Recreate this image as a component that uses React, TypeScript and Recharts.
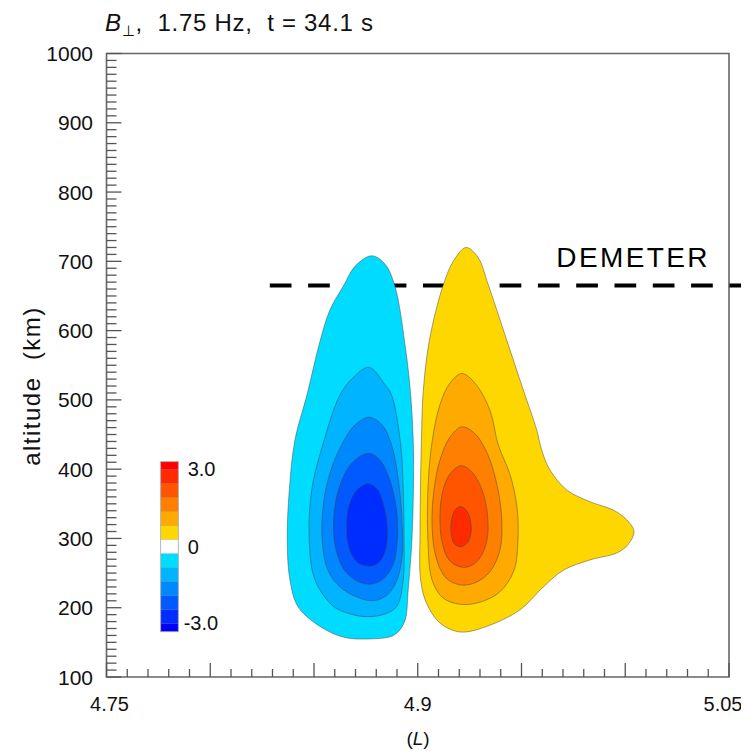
import React from "react";
import { ScatterChart, Scatter, XAxis, YAxis, ReferenceLine, ReferenceArea } from "recharts";

// contour outlines, [L, altitude km]
const negLevel1 = [
  [4.8778, 708], [4.8842, 696], [4.889, 664], [4.8939, 579], [4.8966, 507], [4.8979, 435],
  [4.8979, 370], [4.8972, 298], [4.8954, 226], [4.8939, 182], [4.8905, 165], [4.8866, 158],
  [4.877, 155], [4.8649, 157], [4.8529, 173], [4.8424, 201], [4.8384, 240], [4.8371, 298],
  [4.8381, 370], [4.8408, 442], [4.8466, 507], [4.8524, 579], [4.8577, 630], [4.8641, 664],
  [4.8698, 693],
];
const negLevel2 = [
  [4.8765, 547], [4.8842, 522], [4.8874, 507], [4.8918, 435], [4.893, 370], [4.8934, 298],
  [4.893, 240], [4.8899, 202], [4.8842, 191], [4.8754, 187], [4.8664, 192], [4.8593, 202],
  [4.8505, 240], [4.8477, 298], [4.8489, 370], [4.8542, 435], [4.8625, 507], [4.8688, 532],
];
const negLevel3 = [
  [4.8767, 475], [4.8828, 464], [4.8874, 435], [4.8907, 384], [4.8924, 327], [4.8923, 269],
  [4.889, 233], [4.8842, 216], [4.8778, 210], [4.8702, 216], [4.8625, 230], [4.8567, 254],
  [4.8539, 298], [4.8548, 356], [4.8582, 399], [4.8633, 435], [4.8698, 464],
];
const negLevel4 = [
  [4.8762, 423], [4.8818, 413], [4.8866, 384], [4.8898, 341], [4.8902, 298], [4.8881, 262],
  [4.8828, 240], [4.8765, 234], [4.8698, 240], [4.864, 257], [4.8601, 291], [4.8596, 334],
  [4.8625, 377], [4.8683, 409],
];
const negLevel5 = [
  [4.8762, 379], [4.8808, 370], [4.8842, 341], [4.8854, 312], [4.8842, 280], [4.8804, 263],
  [4.8762, 260], [4.8707, 266], [4.8669, 286], [4.8657, 315], [4.8669, 348], [4.8707, 370],
];

const posLevel1 = [
  [4.9233, 720], [4.929, 706], [4.934, 666], [4.9429, 586], [4.9509, 514], [4.9573, 457],
  [4.9597, 428], [4.9637, 399], [4.9718, 370], [4.983, 353], [4.9942, 341], [5.0007, 327],
  [5.0042, 310], [5.0013, 291], [4.9959, 279], [4.983, 269], [4.9701, 254], [4.9605, 230],
  [4.9493, 197], [4.9332, 173], [4.9204, 165], [4.9107, 178], [4.9043, 206], [4.9014, 240],
  [4.9011, 312], [4.9019, 457], [4.9027, 514], [4.9056, 586], [4.9123, 666], [4.9175, 702],
];
const posLevel2 = [
  [4.9213, 538], [4.9276, 524], [4.9348, 485], [4.9388, 435], [4.9445, 392], [4.9478, 346],
  [4.9483, 298], [4.9464, 254], [4.9396, 223], [4.93, 208], [4.9204, 205], [4.9122, 214],
  [4.9069, 240], [4.9049, 298], [4.9049, 370], [4.9067, 435], [4.9107, 493], [4.9155, 524],
];
const posLevel3 = [
  [4.9212, 461], [4.9276, 451], [4.9339, 420], [4.9382, 377], [4.9405, 327], [4.9396, 283],
  [4.9348, 252], [4.9276, 236], [4.9204, 233], [4.9136, 243], [4.9088, 273], [4.9069, 319],
  [4.9078, 370], [4.9107, 413], [4.9155, 446],
];
const posLevel4 = [
  [4.9208, 405], [4.9261, 396], [4.931, 370], [4.9336, 334], [4.9334, 298], [4.93, 272],
  [4.9252, 260], [4.9204, 259], [4.9151, 269], [4.9117, 295], [4.9107, 334], [4.9122, 370],
  [4.9155, 393],
];
const posLevel5 = [
  [4.9204, 346], [4.9233, 341], [4.9253, 327], [4.9257, 309], [4.9237, 293], [4.9204, 288],
  [4.9175, 293], [4.916, 309], [4.9165, 330], [4.918, 341],
];

const negColors = ["#00dcff", "#00b4ff", "#0088ff", "#005aff", "#002dff"];
const posColors = ["#ffd700", "#ffaa00", "#ff8000", "#ff5500", "#ff2a00"];

const colorbarColors = [
  "#ff0000", "#ff2a00", "#ff5500", "#ff8000", "#ffaa00", "#ffd700", "#ffffff",
  "#00dcff", "#00b4ff", "#0088ff", "#005aff", "#002dff", "#0000ff",
];
const colorbarLabels = [
  { text: "3.0", dx: 27, cy: 461 },
  { text: "0", dx: 27, cy: 539 },
  { text: "-3.0", dx: 23, cy: 615 },
];

const xTicks = Array.from({ length: 31 }, (_, i) => (475 + i) / 100);
const xLabels = [4.75, 4.9, 5.05];
const yTicks = Array.from({ length: 91 }, (_, i) => 100 + i * 10);

const demeterAlt = 665;

const FONT = "'Liberation Sans', Arial, sans-serif";
const toPts = (a: number[][]) => a.map(([L, alt]) => ({ L, alt }));

// centripetal catmull-rom through the (already scaled) points, closed
function closedPath(pts: { x: number; y: number }[]) {
  const n = pts.length;
  const dist = (a: any, b: any) => Math.max(Math.hypot(b.x - a.x, b.y - a.y), 1e-6);
  let d = `M${pts[0].x},${pts[0].y}`;
  for (let i = 0; i < n; i++) {
    const p0 = pts[(i - 1 + n) % n];
    const p1 = pts[i];
    const p2 = pts[(i + 1) % n];
    const p3 = pts[(i + 2) % n];
    const l01 = Math.sqrt(dist(p0, p1));
    const l12 = Math.sqrt(dist(p1, p2));
    const l23 = Math.sqrt(dist(p2, p3));
    const a = 2 * l01 * l01 + 3 * l01 * l12 + l12 * l12;
    const b = 3 * l01 * (l01 + l12);
    const c = 2 * l23 * l23 + 3 * l23 * l12 + l12 * l12;
    const m = 3 * l23 * (l23 + l12);
    const c1x = (p1.x * a - p0.x * l12 * l12 + p2.x * l01 * l01) / b;
    const c1y = (p1.y * a - p0.y * l12 * l12 + p2.y * l01 * l01) / b;
    const c2x = (p2.x * c + p1.x * l23 * l23 - p3.x * l12 * l12) / m;
    const c2y = (p2.y * c + p1.y * l23 * l23 - p3.y * l12 * l12) / m;
    d += `C${c1x},${c1y} ${c2x},${c2y} ${p2.x},${p2.y}`;
  }
  return d + "Z";
}

const contours = [
  ...[negLevel1, negLevel2, negLevel3, negLevel4, negLevel5].map((c, i) => ({ id: `neg${i}`, pts: toPts(c), color: negColors[i] })),
  ...[posLevel1, posLevel2, posLevel3, posLevel4, posLevel5].map((c, i) => ({ id: `pos${i}`, pts: toPts(c), color: posColors[i] })),
];

const noDot = () => <g />;

function XTick(props: any) {
  const { x, y, payload } = props;
  const h = Math.round(payload.value * 100);
  const major = h % 5 === 0;
  const labelled = xLabels.some((v) => Math.round(v * 100) === h);
  const shift = h === 475 ? 3 : h === 505 ? -6 : 0;
  return (
    <g>
      <line x1={x} x2={x} y1={y} y2={y - (major ? 14 : 8)} stroke="#555" strokeWidth={1.3} />
      {labelled && (
        <text x={x + shift} y={y + 34} textAnchor="middle" fontSize={20} fontFamily={FONT} fill="#111">
          {payload.value}
        </text>
      )}
    </g>
  );
}

function YTick(props: any) {
  const { x, y, payload } = props;
  const major = payload.value % 100 === 0;
  return (
    <g>
      <line x1={x} x2={x + (major ? 15 : 10)} y1={y} y2={y} stroke="#555" strokeWidth={1.3} />
      {major && (
        <text x={x - 13.5} y={y + 7.5} textAnchor="end" fontSize={21} fontFamily={FONT} fill="#111">
          {payload.value}
        </text>
      )}
    </g>
  );
}

export default function App() {
  let cbY = 453.7;
  return (
    <div style={{ position: "relative", width: 741, height: 743, fontFamily: FONT }}>
      <ScatterChart width={741} height={743} margin={{ top: 45.5, right: 20, bottom: 34, left: 8.5 }}>
        <XAxis
          type="number"
          dataKey="L"
          domain={[4.75, 5.05]}
          ticks={xTicks}
          interval={0}
          allowDataOverflow
          height={40}
          tickSize={0}
          tickMargin={0}
          tickLine={false}
          axisLine={false}
          tick={(p: any) => <XTick {...p} />}
        />
        <YAxis
          type="number"
          dataKey="alt"
          domain={[100, 1000]}
          ticks={yTicks}
          interval={0}
          allowDataOverflow
          width={90}
          tickSize={0}
          tickMargin={0}
          tickLine={false}
          axisLine={false}
          tick={(p: any) => <YTick {...p} />}
        />
        <ReferenceArea x1={4.75} x2={5.05} y1={100} y2={1000} fill="none" stroke="#666" strokeWidth={1.6} />
        {contours.map((c) => (
          <Scatter
            key={c.id}
            data={c.pts}
            fill={c.color}
            isAnimationActive={false}
            shape={noDot}
            line={(lp: any) => (
              <path d={closedPath(lp.points)} fill={c.color} stroke="rgba(70,70,70,0.55)" strokeWidth={0.9} />
            )}
          />
        ))}
        <ReferenceLine
          segment={[{ x: 4.8287, y: demeterAlt }, { x: 5.1, y: demeterAlt }]}
          ifOverflow="visible"
          stroke="#000"
          strokeWidth={4}
          strokeDasharray="21.7 16.6"
        />
      </ScatterChart>
      <svg width={741} height={743} style={{ position: "absolute", left: 0, top: 0, pointerEvents: "none" }}>
        <text x={97} y={22.7} fontSize={24} letterSpacing={0.7} fill="#111" style={{ whiteSpace: "pre" }}>
          <tspan fontStyle="italic">B</tspan>
          <tspan fontSize={15} dy={5}>⊥</tspan>
          <tspan dy={-5}>{",  1.75 Hz,  t = 34.1 s"}</tspan>
        </text>
        <text x={410} y={737} textAnchor="middle" fontSize={19} fill="#111">
          (<tspan fontStyle="italic">L</tspan>)
        </text>
        <text
          transform="translate(32,378) rotate(-90)"
          textAnchor="middle"
          fontSize={24}
          letterSpacing={1.5}
          fill="#111"
          style={{ whiteSpace: "pre" }}
        >
          {"altitude  (km)"}
        </text>
        <text x={702} y={258.7} textAnchor="end" fontSize={28} letterSpacing={2.4} fill="#000">
          DEMETER
        </text>
        {colorbarColors.map((col, i) => {
          const h = i === 0 || i === colorbarColors.length - 1 ? 8 : 14;
          const r = <rect key={i} x={152.7} y={cbY} width={17.6} height={h} fill={col} stroke="rgba(0,0,0,0.12)" strokeWidth={0.5} />;
          cbY += h;
          return r;
        })}
        <rect x={152.7} y={453.7} width={17.6} height={170} fill="none" stroke="#aaa" strokeWidth={0.8} />
        {colorbarLabels.map((l) => (
          <text key={l.text} x={152.7 + l.dx} y={l.cy + 7} fontSize={20} fill="#111">
            {l.text}
          </text>
        ))}
      </svg>
    </div>
  );
}
